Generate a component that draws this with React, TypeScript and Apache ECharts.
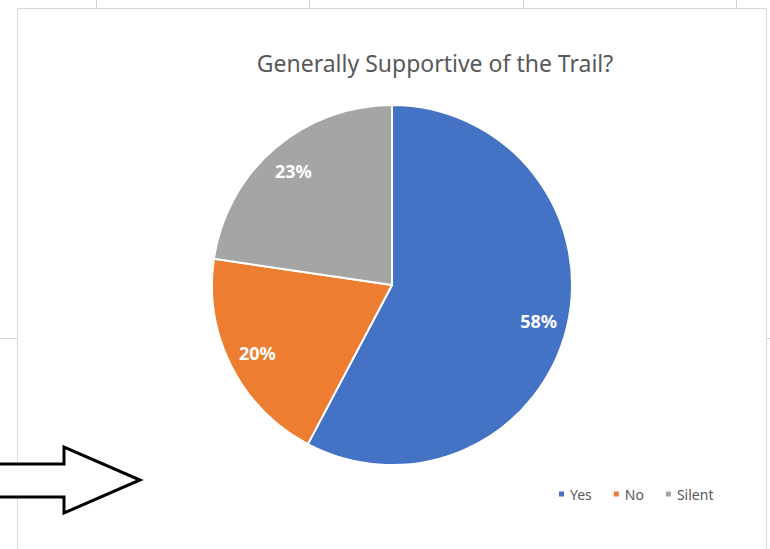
import React, { useEffect, useRef } from "react";
import * as echarts from "echarts";

const categories = ["Yes", "No", "Silent"];
const shares = [57.8, 19.6, 22.7];
const colors = ["#4472C4", "#ED7D31", "#A5A5A5"];
const title = "Generally Supportive of the Trail?";

export default function App() {
  const ref = useRef<HTMLDivElement>(null);
  useEffect(() => {
    if (!ref.current) return;
    const chart = echarts.init(ref.current, undefined, { renderer: "svg" });
    const data = categories.map((name, i) => ({
      name,
      value: shares[i],
      itemStyle: { color: colors[i] },
    }));
    const gridStroke = { stroke: "#D4D4D4", lineWidth: 1 };
    chart.setOption({
      animation: false,
      backgroundColor: "#ffffff",
      title: {
        text: title,
        left: 430,
        textAlign: "center",
        top: 46,
        textStyle: {
          fontFamily: "Noto Sans",
          fontSize: 23,
          fontWeight: "normal",
          color: "#595959",
        },
      },
      legend: {
        data: categories,
        left: 552,
        top: 482,
        icon: "rect",
        itemWidth: 7,
        itemHeight: 7,
        itemGap: 20,
        textStyle: { fontFamily: "Noto Sans", fontSize: 14, color: "#595959" },
      },
      graphic: [
        { type: "line", shape: { x1: 96.5, y1: 0, x2: 96.5, y2: 9 }, style: gridStroke, z: 0 },
        { type: "line", shape: { x1: 309.5, y1: 0, x2: 309.5, y2: 9 }, style: gridStroke, z: 0 },
        { type: "line", shape: { x1: 523.5, y1: 0, x2: 523.5, y2: 9 }, style: gridStroke, z: 0 },
        { type: "line", shape: { x1: 736.5, y1: 0, x2: 736.5, y2: 9 }, style: gridStroke, z: 0 },
        { type: "line", shape: { x1: 0, y1: 338.5, x2: 18, y2: 338.5 }, style: gridStroke, z: 0 },
        { type: "line", shape: { x1: 766, y1: 338.5, x2: 770, y2: 338.5 }, style: gridStroke, z: 0 },
        {
          type: "rect",
          shape: { x: 17.5, y: 8.5, width: 749, height: 560 },
          style: { fill: "#ffffff", stroke: "#D9D9D9", lineWidth: 1 },
          z: 0,
        },
        {
          type: "polygon",
          shape: {
            points: [
              [-5, 464],
              [64, 464],
              [64, 447],
              [140, 480],
              [64, 513],
              [64, 497],
              [-5, 497],
            ],
          },
          style: { fill: "#ffffff", stroke: "#000000", lineWidth: 3 },
          z: 10,
        },
      ],
      series: [
        {
          type: "pie",
          center: [392, 285],
          radius: 180,
          startAngle: 90,
          clockwise: true,
          data,
          label: { show: false },
          labelLine: { show: false },
          itemStyle: { borderColor: "#ffffff", borderWidth: 2 },
          emphasis: { disabled: true },
          silent: true,
        },
        {
          type: "pie",
          center: [392, 285],
          radius: [116, 180],
          startAngle: 90,
          clockwise: true,
          data: data.map((d) => ({ ...d, itemStyle: { color: "rgba(0,0,0,0)" } })),
          label: {
            show: true,
            position: "inside",
            formatter: (p: any) => Math.round(p.percent) + "%",
            color: "#ffffff",
            fontFamily: "Noto Sans",
            fontWeight: "bold",
            fontSize: 18,
          },
          labelLine: { show: false },
          itemStyle: { borderWidth: 0 },
          emphasis: { disabled: true },
          silent: true,
          legendHoverLink: false,
        },
      ],
    });
    return () => chart.dispose();
  }, []);
  return (
    <div
      ref={ref}
      style={{ position: "fixed", left: 0, top: 0, width: 770, height: 549 }}
    />
  );
}
